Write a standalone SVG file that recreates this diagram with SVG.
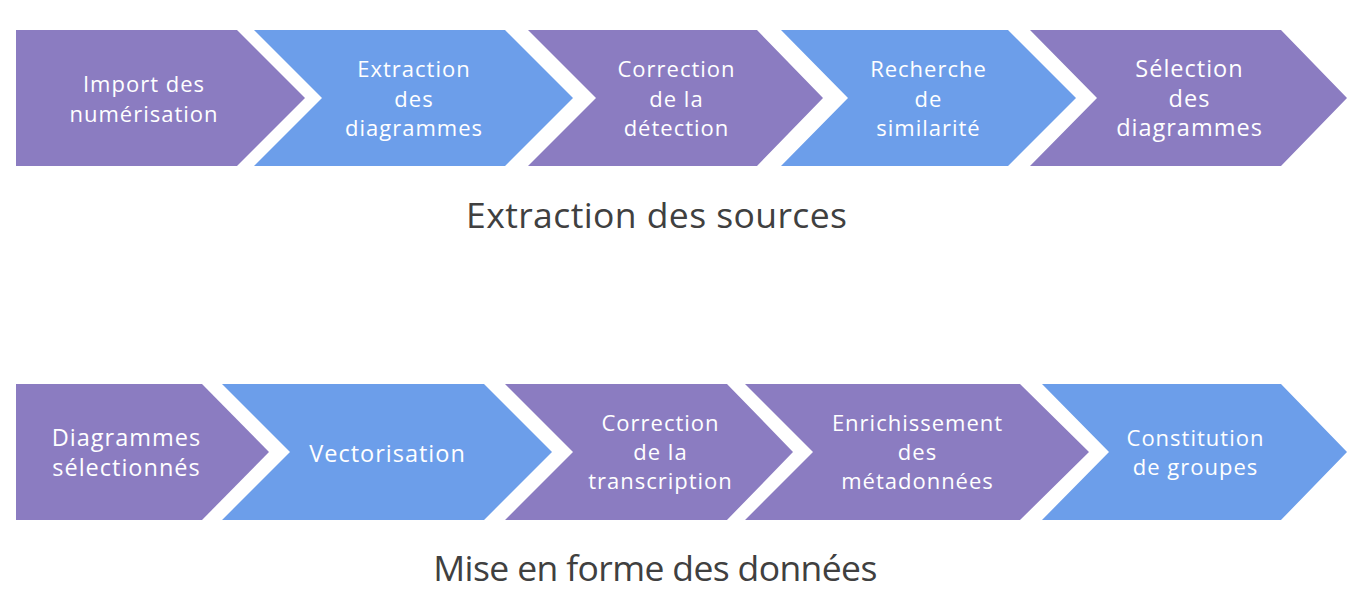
<svg xmlns="http://www.w3.org/2000/svg" width="1357" height="607" viewBox="0 0 1357 607">
<style>
.p{fill:#8b7cc1}
.b{fill:#6c9eea}
.t{font-family:"Open Sans","Noto Sans",sans-serif;font-size:22px;letter-spacing:1px;fill:#ffffff;text-anchor:middle}
.L{font-size:23.5px}
.h{font-family:"Open Sans","Noto Sans",sans-serif;font-size:35.5px;fill:#404040;text-anchor:middle}
</style>
<rect width="1357" height="607" fill="#ffffff"/>
<g id="connectors"></g>
<g id="n1"><polygon class="p" points="16,30 237,30 305,98 237,166 16,166"/><text class="t" x="144" y="92">Import des</text><text class="t" x="144" y="122">numérisation</text></g>
<g id="n2"><polygon class="b" points="254,30 505,30 573,98 505,166 254,166 322,98"/><text class="t" x="414" y="77">Extraction</text><text class="t" x="414" y="107">des</text><text class="t" x="414" y="136">diagrammes</text></g>
<g id="n3"><polygon class="p" points="528,30 757,30 823,98 757,166 528,166 596,98"/><text class="t" x="676.5" y="77">Correction</text><text class="t" x="676.5" y="107">de la</text><text class="t" x="676.5" y="136">détection</text></g>
<g id="n4"><polygon class="b" points="781,30 1008,30 1076,98 1008,166 781,166 848,98"/><text class="t" x="928.5" y="77">Recherche</text><text class="t" x="928.5" y="107">de</text><text class="t" x="928.5" y="136">similarité</text></g>
<g id="n5"><polygon class="p" points="1030,30 1281,30 1347,98 1281,166 1030,166 1097,98"/><text class="t L" x="1189.5" y="77">Sélection</text><text class="t L" x="1189.5" y="107">des</text><text class="t L" x="1189.5" y="136">diagrammes</text></g>
<g id="title1"><text class="h" x="656.5" y="228" textLength="381">Extraction des sources</text></g>
<g id="m1"><polygon class="p" points="16,384 202,384 269,452 202,520 16,520"/><text class="t L" x="126.5" y="446">Diagrammes</text><text class="t L" x="126.5" y="476">sélectionnés</text></g>
<g id="m2"><polygon class="b" points="222,384 484,384 552,452 484,520 222,520 290,452"/><text class="t L" x="387.5" y="462">Vectorisation</text></g>
<g id="m3"><polygon class="p" points="505,384 727,384 793,452 727,520 505,520 573,452"/><text class="t" x="660.5" y="431">Correction</text><text class="t" x="660.5" y="460">de la</text><text class="t" x="660.5" y="489">transcription</text></g>
<g id="m4"><polygon class="p" points="745,384 1020,384 1089,452 1020,520 745,520 813,452"/><text class="t" x="917.5" y="431">Enrichissement</text><text class="t" x="917.5" y="460">des</text><text class="t" x="917.5" y="489">métadonnées</text></g>
<g id="m5"><polygon class="b" points="1042,384 1281,384 1347,452 1281,520 1042,520 1109,452"/><text class="t" x="1195.5" y="446">Constitution</text><text class="t" x="1195.5" y="475">de groupes</text></g>
<g id="title2"><text class="h" x="655.3" y="581" textLength="444">Mise en forme des données</text></g>
</svg>
